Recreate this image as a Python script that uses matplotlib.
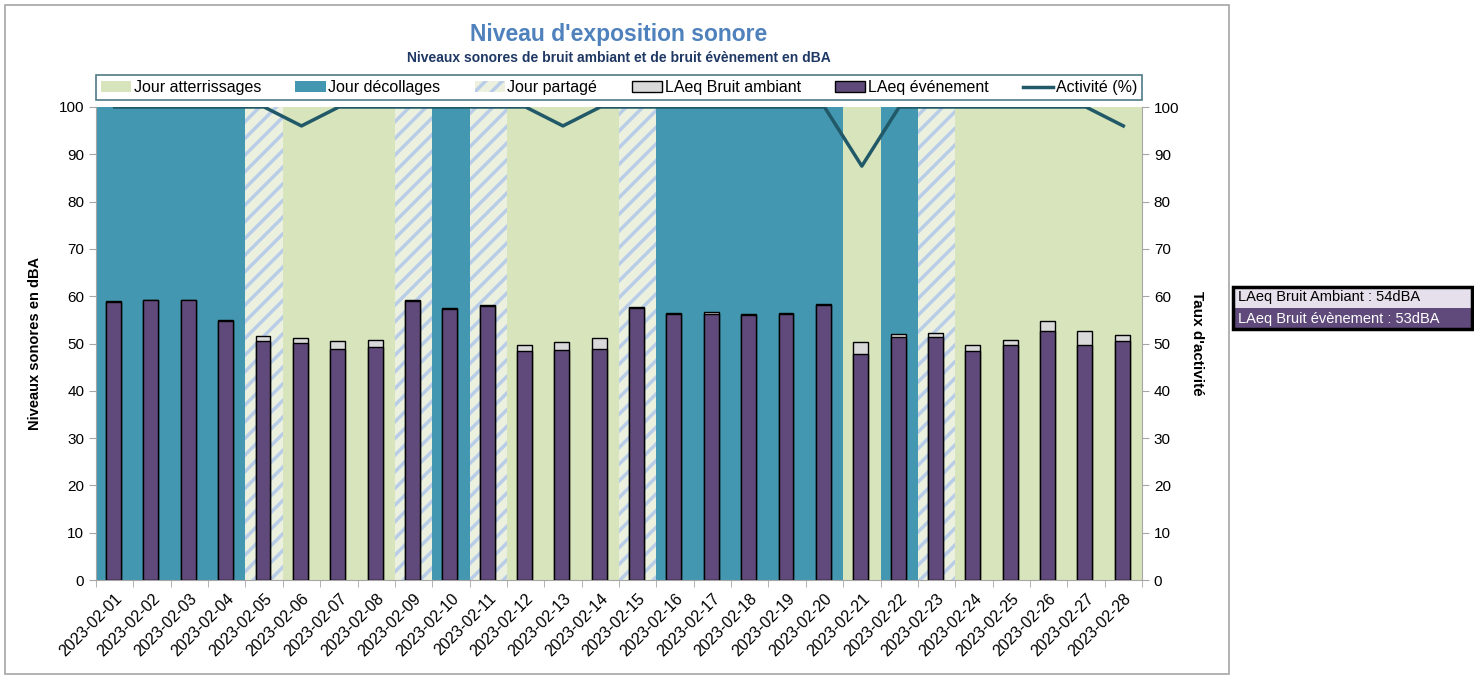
import matplotlib
matplotlib.use("Agg")
import matplotlib.pyplot as plt
from matplotlib.patches import Patch, Rectangle
from matplotlib.lines import Line2D
import numpy as np

dates = ["2023-02-%02d" % d for d in range(1, 29)]
# day type: A = atterrissages, D = décollages, P = partagé
day_type = ["D", "D", "D", "D", "P", "A", "A", "A", "P", "D", "P", "A", "A", "A",
            "P", "D", "D", "D", "D", "D", "A", "D", "P", "A", "A", "A", "A", "A"]
laeq_ambiant = [58.9, 59.3, 59.3, 54.9, 51.5, 51.2, 50.5, 50.8, 59.2, 57.5, 58.2, 49.6, 50.3, 51.1,
                57.7, 56.5, 56.7, 56.2, 56.5, 58.3, 50.3, 52.0, 52.2, 49.7, 50.8, 54.7, 52.7, 51.7]
laeq_evenement = [58.7, 59.1, 59.1, 54.7, 50.5, 50.2, 48.8, 49.3, 59.0, 57.3, 58.0, 48.4, 48.6, 48.8,
                  57.5, 56.2, 56.2, 56.0, 56.3, 58.1, 47.7, 51.3, 51.3, 48.4, 49.6, 52.7, 49.6, 50.5]
activite = [100, 100, 100, 100, 100, 96, 100, 100, 100, 100, 100, 100, 96, 100,
            100, 100, 100, 100, 100, 100, 87.5, 100, 100, 100, 100, 100, 100, 96]
legend_labels = ["Jour atterrissages", "Jour décollages", "Jour partagé",
                 "LAeq Bruit ambiant", "LAeq événement", "Activité (%)"]
summary = ["LAeq Bruit Ambiant : 54dBA", "LAeq Bruit évènement : 53dBA"]

C_ATT = "#D8E4BC"
C_DEC = "#4397B0"
C_PART_BG = "#EBF1DE"
C_PART_HATCH = "#B9CDE8"
C_AMB = "#D9D9D9"
C_EVT = "#604A7B"
C_LINE = "#215968"

plt.rcParams["font.family"] = ["Liberation Sans", "DejaVu Sans"]
plt.rcParams["hatch.linewidth"] = 2.5

W, H = 1474, 675
fig = plt.figure(figsize=(W / 100, H / 100), dpi=100)
fig.patch.set_facecolor("white")

def px(x0, y0, x1, y1):
    return [x0 / W, 1 - y1 / H, (x1 - x0) / W, (y1 - y0) / H]

# chart border
fig.add_artist(Rectangle((5 / W, 1 - 674 / H), (1229 - 5) / W, (674 - 5) / H,
                         transform=fig.transFigure, fill=False, edgecolor="#A6A6A6", lw=1.2))

ax = fig.add_axes(px(96, 107, 1142, 580))
ax.set_facecolor(C_ATT)
x = np.arange(len(dates))

for i, t in enumerate(day_type):
    if t == "A":
        ax.bar(i, 100, width=1.0, color=C_ATT, linewidth=0, zorder=0, antialiased=False)
    elif t == "D":
        ax.bar(i, 100, width=1.0, color=C_DEC, linewidth=0, zorder=0, antialiased=False)
    else:
        ax.bar(i, 100, width=1.0, facecolor=C_PART_BG, edgecolor=C_PART_HATCH,
               hatch="//", linewidth=0, zorder=0, antialiased=False)

ax.bar(x - 0.03, laeq_ambiant, width=0.4, color=C_AMB, edgecolor="black", linewidth=1, zorder=2)
ax.bar(x - 0.03, laeq_evenement, width=0.4, color=C_EVT, edgecolor="black", linewidth=1, zorder=3)

ax.set_xlim(-0.5, len(dates) - 0.5)
ax.set_ylim(0, 100)
ax.set_yticks(np.arange(0, 101, 10))
ax.set_xticks(x)
ax.set_xticklabels(dates, rotation=45, ha="right", rotation_mode="anchor", fontsize=11.5)
ax.set_xticks(np.arange(-0.5, len(dates), 1.0), minor=True)
ax.tick_params(axis="x", which="major", length=0, pad=8)
ax.tick_params(axis="x", which="minor", length=5, color="#A6A6A6")
ax.tick_params(axis="y", labelsize=11, color="#A6A6A6", length=5)
for s in ["top", "right"]:
    ax.spines[s].set_visible(False)
for s in ["left", "bottom"]:
    ax.spines[s].set_color("#A6A6A6")
ax.set_ylabel("Niveaux sonores en dBA", fontsize=10.5, fontweight="bold", labelpad=12)

ax2 = ax.twinx()
ax2.plot(x, activite, color=C_LINE, linewidth=2.5, zorder=5)
ax2.set_ylim(0, 100)
ax2.set_yticks(np.arange(0, 101, 10))
ax2.tick_params(axis="y", labelsize=11, color="#A6A6A6", length=5)
for s in ["top", "left", "bottom"]:
    ax2.spines[s].set_visible(False)
ax2.spines["right"].set_color("#A6A6A6")
ax2.set_ylabel("Taux d'activité", fontsize=11, fontweight="bold", rotation=-90, labelpad=18)

fig.text(619 / W, 1 - 35 / H, "Niveau d'exposition sonore", ha="center", va="center",
         fontsize=16.5, fontweight="bold", color="#4F81BD")
fig.text(619 / W, 1 - 58 / H, "Niveaux sonores de bruit ambiant et de bruit évènement en dBA",
         ha="center", va="center", fontsize=10, fontweight="bold", color="#1F3864")

handles = [
    Patch(facecolor=C_ATT, edgecolor="none"),
    Patch(facecolor=C_DEC, edgecolor="none"),
    Patch(facecolor=C_PART_BG, edgecolor=C_PART_HATCH, hatch="//", linewidth=0),
    Patch(facecolor=C_AMB, edgecolor="black", linewidth=1),
    Patch(facecolor=C_EVT, edgecolor="black", linewidth=1),
    Line2D([0], [0], color=C_LINE, linewidth=2.5),
]
leg = fig.legend(handles, legend_labels, ncol=6, loc="lower left",
                 bbox_to_anchor=(96 / W, 1 - 100 / H, (1142 - 96) / W, 29 / H),
                 mode="expand", fontsize=11.5, frameon=True, fancybox=False,
                 handlelength=1.9, handletextpad=0.15, borderaxespad=0, borderpad=0.3)
leg.get_frame().set_edgecolor("#215968")
leg.get_frame().set_linewidth(1.2)

# summary box
bx0, bx1, by0, bym, by1 = 1233, 1472, 287, 308, 329
fig.add_artist(Rectangle((bx0 / W, 1 - bym / H), (bx1 - bx0) / W, (bym - by0) / H,
                         transform=fig.transFigure, facecolor="#E6E0EC", edgecolor="none"))
fig.add_artist(Rectangle((bx0 / W, 1 - by1 / H), (bx1 - bx0) / W, (by1 - bym) / H,
                         transform=fig.transFigure, facecolor=C_EVT, edgecolor="none"))
fig.add_artist(Rectangle((bx0 / W, 1 - by1 / H), (bx1 - bx0) / W, (by1 - by0) / H,
                         transform=fig.transFigure, fill=False, edgecolor="black", lw=2.5))
fig.text((bx0 + 5) / W, 1 - (by0 + bym) / 2 / H, summary[0], ha="left", va="center",
         fontsize=10.5, color="black")
fig.text((bx0 + 5) / W, 1 - (bym + by1) / 2 / H, summary[1], ha="left", va="center",
         fontsize=10.5, color="white")

fig.savefig("out.png", dpi=100)
